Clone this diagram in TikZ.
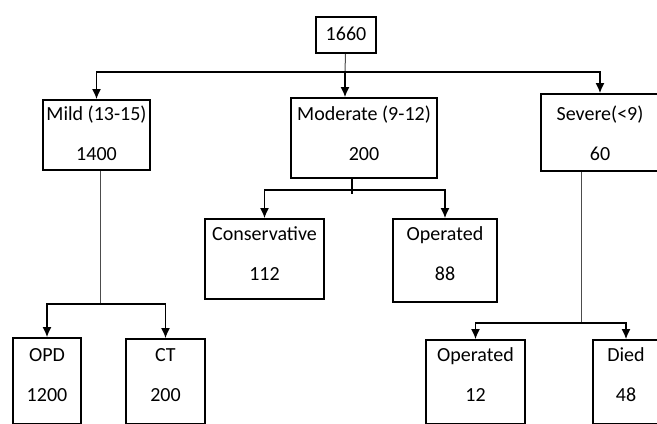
\documentclass[tikz,border=0pt]{standalone}
\usepackage{fontspec}
\setmainfont{Carlito}
\usepackage{tikz}
\usetikzlibrary{arrows.meta}
\tikzset{>={Latex[length=5pt,width=4.5pt]}}
\tikzstyle{gcs}=[draw,line width=1pt,anchor=north west,rectangle,align=center,
  inner sep=0pt,minimum height=0pt,font=\fontsize{10}{20}\selectfont]
\tikzstyle{branch}=[line width=0.6pt]
\tikzstyle{stem}=[line width=0.5pt,black!70]
\begin{document}
\begin{tikzpicture}[x=0.5pt,y=-0.5pt]
  \useasboundingbox (0,0) rectangle (657,423);
  \clip (0,0) rectangle (657,423);
  % boxes
  \node[gcs,minimum width=30pt,text height=11.7pt,text depth=6.3pt] (total) at (315,16) {1660};
  \node[gcs,minimum width=53.5pt,text height=30.2pt,text depth=4.8pt] (mild) at (42,99) {Mild (13-15)\\1400};
  \node[gcs,minimum width=73pt,text height=31.2pt,text depth=8.8pt] (moder) at (290,97) {Moderate (9-12)\\200};
  \node[gcs,minimum width=59pt,text height=33.2pt,text depth=5.3pt] (sev) at (540,93) {Severe(<9)\\60};
  \node[gcs,minimum width=59.5pt,text height=30.7pt,text depth=9.3pt] (cons) at (204,218) {Conservative\\112};
  \node[gcs,minimum width=52pt,text height=30.7pt,text depth=10.8pt] (operA) at (392,218) {Operated\\88};
  \node[gcs,minimum width=34pt,text height=31.7pt,text depth=11.3pt] (opd) at (12,337) {OPD\\1200};
  \node[gcs,minimum width=39.5pt,text height=31.2pt,text depth=11.3pt] (ct) at (125,338) {CT\\200};
  \node[gcs,minimum width=49.5pt,text height=30.7pt,text depth=11.3pt] (operB) at (425,339) {Operated\\12};
  \node[gcs,minimum width=33pt,text height=30.7pt,text depth=11.3pt] (died) at (592,339) {Died\\48};
  % split points
  \coordinate (s0) at (345,72);
  \coordinate (s1) at (100.5,304);
  \coordinate (s2) at (352,190);
  \coordinate (s3) at (581,323);
  % connectors
  \draw[stem] (total) -- (s0);
  \draw[branch,->] (s0) -| (mild.north);
  \draw[branch,->] (s0) -- (s0 |- moder.north);
  \draw[branch,->] (s0) -| (sev.north);
  \draw[stem] (mild.south -| s1) -- (s1);
  \draw[branch,->] (s1) -| (opd.north);
  \draw[branch,->] (s1) -| (ct.north);
  \draw[branch] (moder.south -| s2) -- ([yshift=-2pt]s2);
  \draw[branch,->] (s2) -| (cons.north);
  \draw[branch,->] (s2) -| (operA.north);
  \draw[stem] (sev.south -| s3) -- (s3);
  \draw[branch,->] (s3) -| (operB.north);
  \draw[branch,->] (s3) -| (died.north);
\end{tikzpicture}
\end{document}
